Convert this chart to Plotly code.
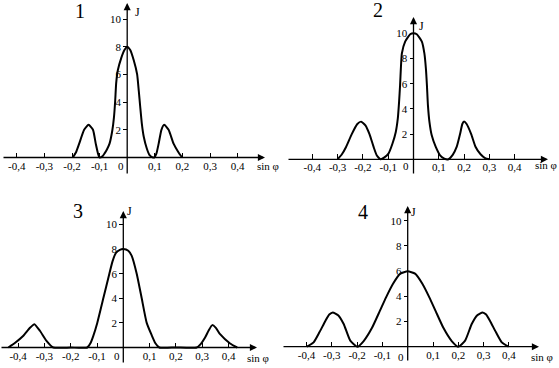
import plotly.graph_objects as go

W, H = 559, 368

# ---------------- data ----------------
x_ticks = [-0.4, -0.3, -0.2, -0.1, 0.1, 0.2, 0.3, 0.4]
x_ticklabels = ['-0,4', '-0,3', '-0,2', '-0,1', '0,1', '0,2', '0,3', '0,4']
J_ticks = [2, 4, 6, 8, 10]
J_ticklabels = ['2', '4', '6', '8', '10']
panel_names = ['1', '2', '3', '4']

sin1 = [-0.197, -0.185, -0.174, -0.156, -0.140, -0.124, -0.114, -0.106, -0.100, -0.090,
        -0.082, -0.073, -0.064, -0.054, -0.048, -0.0435, -0.040, -0.034, -0.022, -0.010,
        0.0, 0.011, 0.024, 0.036, 0.042, 0.047, 0.053, 0.060, 0.071, 0.081,
        0.090, 0.098, 0.106, 0.114, 0.124, 0.134, 0.150, 0.168, 0.185, 0.199]
J1 = [0, 0.4, 1.0, 2.0, 2.36, 2.0, 1.0, 0.3, 0, 0.08,
      0.3, 0.6, 1.0, 1.95, 2.9, 4.1, 5.35, 6.3, 7.16, 7.76,
      8.0, 7.76, 7.0, 6.0, 4.8, 3.7, 2.45, 1.5, 0.65, 0.17,
      0.03, 0, 0.3, 1.0, 2.0, 2.36, 2.0, 1.0, 0.4, 0]

sin2 = [-0.300, -0.283, -0.266, -0.244, -0.222, -0.207, -0.190, -0.174, -0.158, -0.145,
        -0.130, -0.115, -0.099, -0.083, -0.070, -0.062, -0.057, -0.053, -0.050, -0.046,
        -0.033, -0.013, 0.0, 0.013, 0.033, 0.043, 0.049, 0.053, 0.057, 0.063,
        0.072, 0.088, 0.105, 0.122, 0.138, 0.155, 0.171, 0.184, 0.193, 0.200,
        0.210, 0.228, 0.245, 0.265, 0.283, 0.300]
J2 = [0, 0.4, 1.0, 2.0, 2.8, 2.99, 2.7, 2.0, 1.0, 0.3,
      0, 0.15, 0.45, 1.25, 2.17, 3.24, 4.56, 5.9, 7.2, 8.4,
      9.34, 9.92, 10.0, 9.92, 9.34, 8.4, 7.2, 5.9, 4.3, 2.97,
      1.9, 0.98, 0.32, 0.05, 0, 0.35, 1.0, 2.0, 2.8, 3.0,
      2.8, 2.0, 1.0, 0.4, 0.1, 0]

sin3 = [-0.437, -0.41, -0.38, -0.355, -0.338, -0.317, -0.292, -0.266, -0.20, -0.137,
        -0.125, -0.114, -0.099, -0.076, -0.053, -0.041, -0.028, -0.013, 0.0, 0.019,
        0.032, 0.051, 0.070, 0.089, 0.108, 0.122, 0.137, 0.20, 0.279, 0.295,
        0.311, 0.325, 0.338, 0.352, 0.368, 0.406, 0.433]
J3 = [0, 0.4, 0.95, 1.6, 1.9, 1.36, 0.54, 0, 0, 0,
      0.35, 0.95, 2.0, 4.0, 6.0, 7.0, 7.7, 7.94, 8.0, 7.86,
      7.45, 6.0, 4.0, 2.0, 1.0, 0.35, 0, 0, 0, 0.3,
      0.81, 1.4, 1.82, 1.6, 1.08, 0.33, 0]

sin4 = [-0.399, -0.372, -0.349, -0.325, -0.310, -0.296, -0.275, -0.253, -0.227, -0.199,
        -0.174, -0.141, -0.111, -0.086, -0.058, -0.029, 0.0, 0.029, 0.058, 0.086,
        0.111, 0.141, 0.174, 0.200, 0.227, 0.253, 0.275, 0.296, 0.310, 0.325,
        0.349, 0.372, 0.399]
J4 = [0, 0.34, 1.14, 2.06, 2.55, 2.72, 2.5, 1.8, 0.48, 0,
      0.45, 1.5, 2.8, 3.9, 5.0, 5.8, 5.98, 5.8, 5.0, 3.9,
      2.8, 1.5, 0.45, 0, 0.48, 1.8, 2.5, 2.72, 2.55, 2.06,
      1.14, 0.34, 0]

series = [(sin1, J1), (sin2, J2), (sin3, J3), (sin4, J4)]

# ---------------- geometry (pixels) ----------------
geo = [
    dict(box=(0, 0, 280, 184), ox=127.2, oy=157.5, sx=276, sy=13.85,
         xa=(2, 265), ya=(175, 3), num=(80, 11), J=(137, 12), sin=(268, 166), zero=(120.5, 166)),
    dict(box=(280, 0, 559, 184), ox=413.5, oy=159.3, sx=253, sy=12.6,
         xa=(287, 548), ya=(175, 17), num=(378, 10), J=(421.5, 26), sin=(546, 165), zero=(406, 166)),
    dict(box=(0, 184, 280, 368), ox=123.3, oy=347.5, sx=263, sy=12.3,
         xa=(0, 257), ya=(364, 211), num=(77.5, 211), J=(129, 211), sin=(258, 358), zero=(117, 356)),
    dict(box=(280, 184, 559, 368), ox=407.7, oy=346.7, sx=253, sy=12.6,
         xa=(282, 539), ya=(362, 206), num=(363, 212), J=(413, 212), sin=(542, 357), zero=(401, 357)),
]

FONT = 'Liberation Serif, Times New Roman, serif'
fig = go.Figure()
layout = dict(width=W, height=H, margin=dict(l=0, r=0, t=0, b=0, autoexpand=False),
              paper_bgcolor='white', plot_bgcolor='white', showlegend=False)
annotations = []

def px2paper(px, py):
    return px / W, 1 - py / H

for i, ((xs, ys), g) in enumerate(zip(series, geo), start=1):
    xn = 'x' if i == 1 else f'x{i}'
    yn = 'y' if i == 1 else f'y{i}'
    xk = 'xaxis' if i == 1 else f'xaxis{i}'
    yk = 'yaxis' if i == 1 else f'yaxis{i}'
    bx0, by0, bx1, by1 = g['box']
    ox, oy, sx, sy = g['ox'], g['oy'], g['sx'], g['sy']
    xr = [(bx0 - ox) / sx, (bx1 - ox) / sx]
    yr = [(oy - by1) / sy, (oy - by0) / sy]

    fig.add_trace(go.Scatter(x=xs, y=ys, mode='lines', xaxis=xn, yaxis=yn,
                             line=dict(color='black', width=2, shape='spline', smoothing=0.5),
                             hoverinfo='skip'))

    layout[xk] = dict(domain=[bx0 / W, bx1 / W], range=xr, anchor='free',
                      position=1 - oy / H, tickvals=x_ticks, ticktext=x_ticklabels,
                      ticks='inside', ticklen=5, tickwidth=1.2, tickcolor='black',
                      showgrid=False, zeroline=False, showline=False, automargin=False,
                      tickfont=dict(family=FONT, size=11, color='black'), fixedrange=True)
    layout[yk] = dict(domain=[1 - by1 / H, 1 - by0 / H], range=yr, anchor='free',
                      position=ox / W, tickvals=J_ticks, ticktext=J_ticklabels,
                      ticks='outside', ticklen=4, tickwidth=1.2, tickcolor='black',
                      showgrid=False, zeroline=False, showline=False, automargin=False,
                      tickfont=dict(family=FONT, size=11, color='black'), fixedrange=True)

    # axis lines with arrows
    annotations.append(dict(x=(g['xa'][1] - ox) / sx, y=0, ax=(g['xa'][0] - ox) / sx, ay=0,
                            xref=xn, yref=yn, axref=xn, ayref=yn, text='', showarrow=True,
                            arrowhead=2, arrowsize=1.1, arrowwidth=1.3, arrowcolor='black'))
    annotations.append(dict(x=0, y=(oy - g['ya'][1]) / sy, ax=0, ay=(oy - g['ya'][0]) / sy,
                            xref=xn, yref=yn, axref=xn, ayref=yn, text='', showarrow=True,
                            arrowhead=2, arrowsize=1.1, arrowwidth=1.3, arrowcolor='black'))

    for key, txt, size in [('num', panel_names[i - 1], 20), ('J', 'J', 12),
                           ('sin', 'sin φ', 11), ('zero', '0', 11)]:
        xp, yp = px2paper(*g[key])
        annotations.append(dict(x=xp, y=yp, xref='paper', yref='paper', text=txt,
                                showarrow=False, xanchor='center', yanchor='middle',
                                font=dict(family=FONT, size=size, color='black')))

layout['annotations'] = annotations
fig.update_layout(**layout)
fig.write_html('out.html', config={'displayModeBar': False},
               post_script="document.body.style.margin='0';document.body.style.overflow='hidden';")
